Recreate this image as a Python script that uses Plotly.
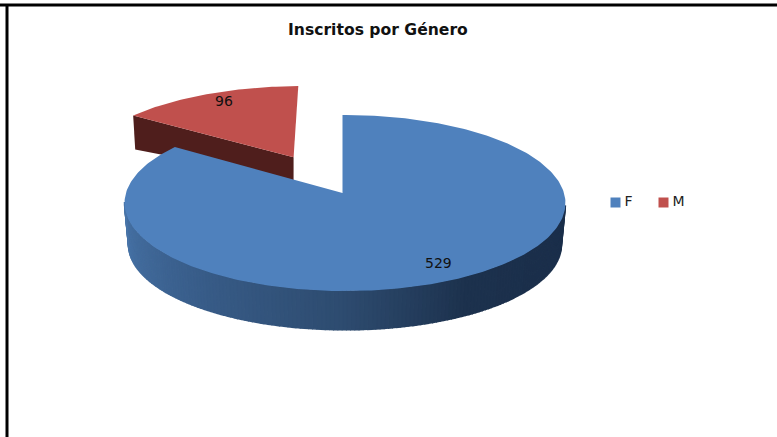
import numpy as np
import plotly.graph_objects as go

categories = ["F", "M"]
values = [529, 96]
title_text = "Inscritos por Género"

# --- style / projection constants (screen pixels)
BLUE, RED, RED_WALL = "#4f81bd", "#c0504d", "#4f1e1c"
X0, Y0, Y0_BOTTOM = 342.5, 193.0, 235.0
BX, AY, AY_BOTTOM = 219.0, 86.9, 84.0
P, Q = 0.1136, -0.0113
EXPLODE = 0.49
M_X_SHIFT = -0.5
M_BX = 224.0


def project(phi, r=1.0, offset=(0.0, 0.0), y0=Y0, ay=AY, bx=BX):
    """Clockwise-from-top angle (radians) on the tilted pie -> screen pixels."""
    u = r * np.sin(phi) + offset[0]
    v = r * np.cos(phi) + offset[1]
    den = 1 + P * v + Q * u
    return X0 + bx * u / den, y0 - ay * v / den


total = sum(values)
sweep_f = 2 * np.pi * values[0] / total
sweep_m = 2 * np.pi * values[1] / total

fig = go.Figure()


def poly(x, y, fill, line=None):
    fig.add_trace(go.Scatter(
        x=list(x), y=list(y), mode="lines", fill="toself", fillcolor=fill,
        line=dict(color=line or fill, width=1.6 if line else 0),
        hoverinfo="skip", showlegend=False))


# ---- exploded M slice
bis = sweep_f + sweep_m / 2
off = (EXPLODE * np.sin(bis), EXPLODE * np.cos(bis))
phi_m = np.linspace(sweep_f, sweep_f + sweep_m, 50)
xr, yr = project(phi_m, offset=off, bx=M_BX)
xr = xr + M_X_SHIFT
xa, ya = project(np.array([0.0]), r=0.0, offset=off, bx=M_BX)
xa = xa + M_X_SHIFT
# cut face of M, seen below the rim corner and the apex
M_DEPTH_RIM, M_DEPTH_APEX, M_SHIFT = 34, 23, 2
poly([xr[0], xa[0], xa[0], xr[0] + M_SHIFT],
     [yr[0], ya[0], ya[0] + M_DEPTH_APEX, yr[0] + M_DEPTH_RIM], RED_WALL)
poly(np.r_[xa, xr], np.r_[ya, yr], RED)

# ---- F wall: gradient strips along the visible front of the cylinder
stops_deg = [0, 85, 120, 150, 180, 215, 250, 270, 305, 360]
stops_rgb = np.array([
    [27, 47, 75], [27, 47, 75], [27, 47, 75], [29, 50, 78], [46, 76, 112],
    [56, 92, 136], [68, 110, 160], [74, 120, 172], [74, 120, 172], [74, 120, 172]])
edges = np.radians(np.linspace(98, 264, 167))
for a, b in zip(edges[:-1], edges[1:]):
    ph = np.linspace(a, b, 3)
    xt, yt = project(ph)
    xb, yb = project(ph, y0=Y0_BOTTOM, ay=AY_BOTTOM, bx=215.0)
    mid = np.degrees((a + b) / 2)
    rgb = [int(np.interp(mid, stops_deg, stops_rgb[:, i])) for i in range(3)]
    c = f"rgb({rgb[0]},{rgb[1]},{rgb[2]})"
    poly(np.r_[xt, xb[::-1]], np.r_[yt, yb[::-1]], c, line=c)

# ---- F top face
phi_f = np.linspace(0, sweep_f, 300)
xf, yf = project(phi_f)
poly(np.r_[X0, xf, X0], np.r_[Y0, yf, Y0], BLUE)

# ---- legend entries
LEGEND_X = [615.5, 663.5]
LEGEND_TEXT_DX = 9
LEGEND_Y = 202.5
for name, col, lx in zip(categories, [BLUE, RED], LEGEND_X):
    fig.add_trace(go.Scatter(
        x=[lx], y=[LEGEND_Y], mode="markers", name=name,
        marker=dict(symbol="square", size=10, color=col),
        hoverinfo="skip", showlegend=False))
    fig.add_trace(go.Scatter(
        x=[lx + LEGEND_TEXT_DX], y=[LEGEND_Y], mode="text", name=name, text=[name],
        textposition="middle right",
        textfont=dict(family="DejaVu Sans", size=14, color="#222222"),
        hoverinfo="skip", showlegend=False))

FONT = "DejaVu Sans"
fig.update_layout(
    width=777, height=437, margin=dict(l=0, r=0, t=0, b=0),
    paper_bgcolor="white", plot_bgcolor="white",
    xaxis=dict(range=[0, 777], visible=False, fixedrange=True),
    yaxis=dict(range=[437, 0], visible=False, fixedrange=True),
    font=dict(family=FONT, color="#111111", size=14),
    showlegend=False,
    shapes=[
        dict(type="line", xref="paper", yref="paper", x0=0, x1=1, y0=1 - 5 / 437, y1=1 - 5 / 437,
             line=dict(color="black", width=3)),
        dict(type="line", xref="paper", yref="paper", x0=7 / 777, x1=7 / 777, y0=0, y1=1 - 5 / 437,
             line=dict(color="black", width=3)),
    ],
    annotations=[
        dict(text=f"<b>{title_text}</b>", x=377.5, y=30, xref="x", yref="y", showarrow=False,
             font=dict(size=15.6, family=FONT, color="#111111")),
        dict(text=str(values[1]), x=224, y=101, xref="x", yref="y", showarrow=False),
        dict(text=str(values[0]), x=438, y=263, xref="x", yref="y", showarrow=False),
    ],
)
fig.write_html("out.html", config={"displayModeBar": False},
               post_script="document.body.style.margin='0';document.documentElement.style.overflow='hidden';")
